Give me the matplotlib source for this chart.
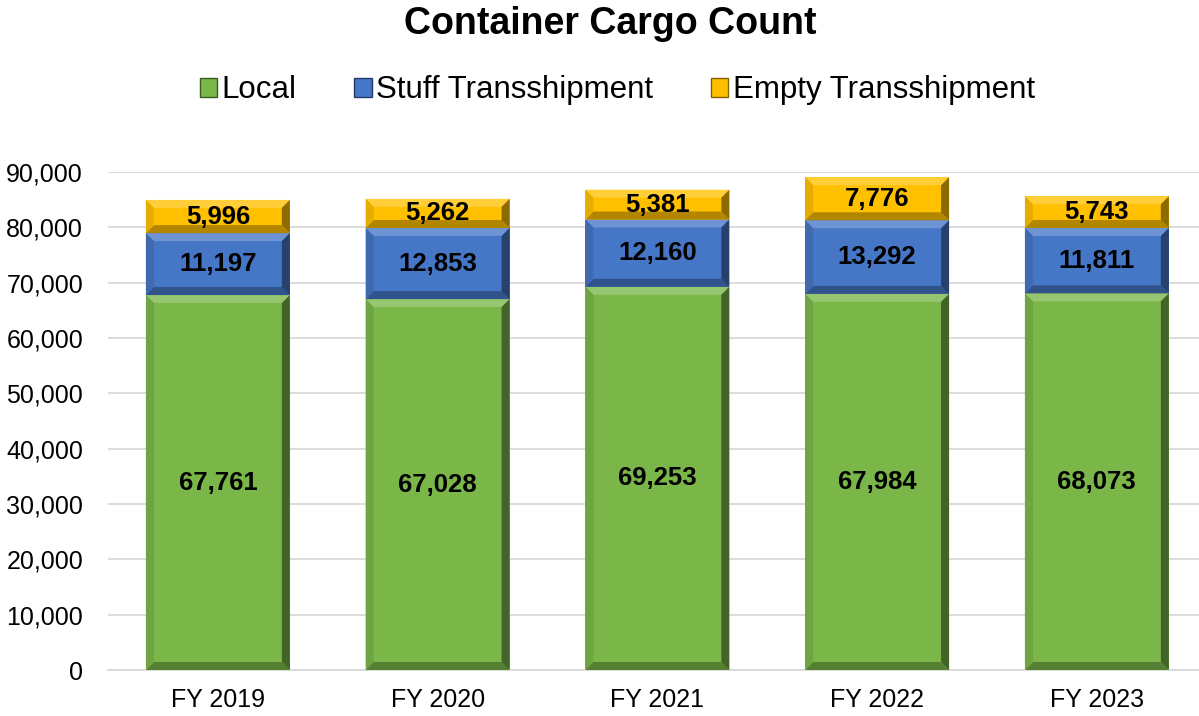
import matplotlib.pyplot as plt
import matplotlib.colors as mcolors
from matplotlib.patches import Polygon, Patch
import numpy as np

plt.rcParams['font.family'] = ['Liberation Sans', 'DejaVu Sans']

years = ['FY 2019', 'FY 2020', 'FY 2021', 'FY 2022', 'FY 2023']
local = [67761, 67028, 69253, 67984, 68073]
stuff = [11197, 12853, 12160, 13292, 11811]
empty = [5996, 5262, 5381, 7776, 5743]

series = ['Local', 'Stuff Transshipment', 'Empty Transshipment']
colors = ['#7ab648', '#4676c6', '#ffc000']


def shade(c, f):
    r = np.array(mcolors.to_rgb(c))
    if f > 0:
        r = r + (1 - r) * f
    else:
        r = r * (1 + f)
    return tuple(np.clip(r, 0, 1))


fig = plt.figure(figsize=(11.99, 7.16), dpi=100)
ax = fig.add_axes([108 / 1199, 46 / 716, 1091 / 1199, 498 / 716])

x = np.arange(len(years))
width = 0.655
ax.set_xlim(-0.5, -0.5 + 1091 / 219.75)
ax.set_ylim(0, 90000)

# bevel size, pixels -> data units
bev = 8
dx = bev * (ax.get_xlim()[1] - ax.get_xlim()[0]) / 1091
dy = bev * 90000 / 498

bottom = np.zeros(len(years))
for vals, col in zip([local, stuff, empty], colors):
    vals = np.array(vals)
    bars = ax.bar(x, vals, width, bottom=bottom, color=col, zorder=2,
                  edgecolor='none')
    for b, v in zip(bars, vals):
        x0, x1 = b.get_x(), b.get_x() + b.get_width()
        y0, y1 = b.get_y(), b.get_y() + b.get_height()
        sides = [
            ([(x0, y1), (x1, y1), (x1 - dx, y1 - dy), (x0 + dx, y1 - dy)], shade(col, 0.22)),
            ([(x0, y0), (x1, y0), (x1 - dx, y0 + dy), (x0 + dx, y0 + dy)], shade(col, -0.3)),
            ([(x0, y0), (x0, y1), (x0 + dx, y1 - dy), (x0 + dx, y0 + dy)], shade(col, -0.1)),
            ([(x1, y0), (x1, y1), (x1 - dx, y1 - dy), (x1 - dx, y0 + dy)], shade(col, -0.45)),
        ]
        for pts, c in sides:
            ax.add_patch(Polygon(pts, closed=True, facecolor=c, edgecolor='none', zorder=3))
        ax.text(b.get_x() + b.get_width() / 2, y0 + v / 2, f'{v:,}',
                ha='center', va='center', fontsize=18.5, fontweight='bold', zorder=4)
    bottom = bottom + vals

ax.set_yticks(np.arange(0, 90001, 10000))
ax.yaxis.set_major_formatter(plt.FuncFormatter(lambda v, p: f'{int(v):,}'))
ax.set_xticks(x)
ax.set_xticklabels(years)
ax.tick_params(axis='both', length=0, labelsize=18)
ax.tick_params(axis='y', pad=18)
ax.tick_params(axis='x', pad=13)
ax.grid(axis='y', color='#d9d9d9', linewidth=1.3, zorder=0)
ax.set_axisbelow(True)
for s in ['top', 'right', 'left']:
    ax.spines[s].set_visible(False)
ax.spines['bottom'].set_color('#d9d9d9')
ax.spines['bottom'].set_linewidth(1.3)

fig.text(0.509, 0.966, 'Container Cargo Count', ha='center', va='center',
         fontsize=27, fontweight='bold')

handles = [Patch(facecolor=c, edgecolor=shade(c, -0.5), linewidth=1) for c in colors]
fig.legend(handles, series, loc='center', bbox_to_anchor=(0.515, 0.874), ncol=3,
           frameon=False, fontsize=22.5, handlelength=0.55, handleheight=0.55,
           handletextpad=0.15, columnspacing=1.85)

fig.savefig('out.png', dpi=100)
